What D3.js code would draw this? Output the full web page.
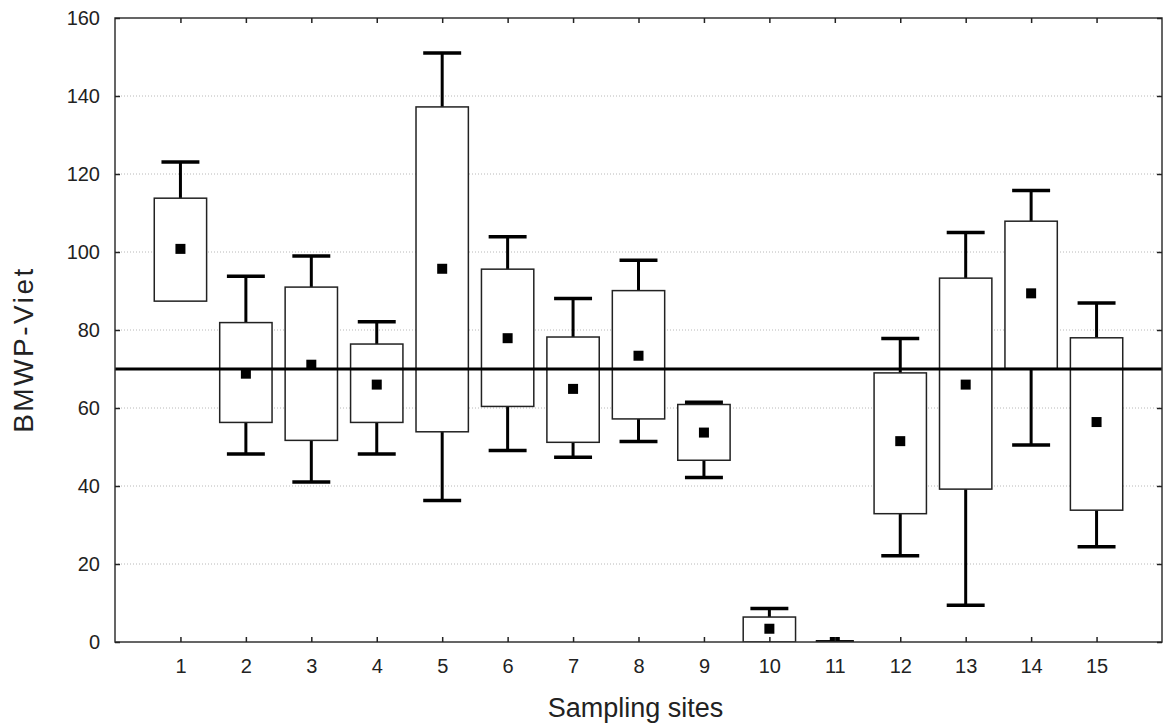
<!DOCTYPE html>
<html>
<head>
<meta charset="utf-8">
<script src="https://cdn.jsdelivr.net/npm/d3@7"></script>
<style>
  body { margin: 0; background: #fff; }
  text { font-family: "Liberation Sans", Arial, sans-serif; fill: #222; }
</style>
</head>
<body>
<div class="canvas"></div>
<script>
// data
const sites    = [1, 2, 3, 4, 5, 6, 7, 8, 9, 10, 11, 12, 13, 14, 15];
const means    = [100.8, 68.8, 71.1, 66.0, 95.7, 77.9, 64.9, 73.4, 53.7, 3.4, 0, 51.5, 66.0, 89.4, 56.4];
const boxLow   = [87.4, 56.3, 51.7, 56.3, 53.9, 60.4, 51.2, 57.2, 46.6, 0, 0, 32.9, 39.2, 70.1, 33.8];
const boxHigh  = [113.8, 81.9, 91.0, 76.4, 137.2, 95.6, 78.2, 90.1, 60.9, 6.4, 0, 69.0, 93.3, 107.9, 78.0];
const whiskLow = [87.4, 48.2, 41.0, 48.2, 36.3, 49.1, 47.4, 51.4, 42.2, 0, 0, 22.1, 9.4, 50.5, 24.4];
const whiskHigh= [123.1, 93.8, 99.0, 82.1, 151.0, 103.9, 88.1, 97.9, 61.5, 8.6, 0, 77.8, 105.0, 115.8, 86.9];
const yTicks   = [0, 20, 40, 60, 80, 100, 120, 140, 160];
const refLine  = 70;

const width = 1163, height = 727;
const margin = {top: 18, right: 1, bottom: 85, left: 115};
const graphWidth = width - margin.left - margin.right;
const graphHeight = height - margin.top - margin.bottom;

const svg = d3.select('.canvas')
  .append('svg')
  .attr('width', width)
  .attr('height', height);

const graph = svg.append('g')
  .attr('transform', `translate(${margin.left}, ${margin.top})`);

const x = d3.scaleLinear().domain([0, 16]).range([0, graphWidth]);
const y = d3.scaleLinear().domain([0, 160]).range([graphHeight, 0]);

// clip for plot area
svg.append('defs').append('clipPath').attr('id', 'plotclip')
  .append('rect').attr('width', graphWidth).attr('height', graphHeight);

// dotted grid
graph.append('g')
  .selectAll('line')
  .data(yTicks.filter(d => d > 0 && d < 160))
  .enter().append('line')
  .attr('x1', 0).attr('x2', graphWidth)
  .attr('y1', d => y(d)).attr('y2', d => y(d))
  .attr('stroke', '#b8b8b8')
  .attr('stroke-width', 1)
  .attr('stroke-dasharray', '1,2');

const rows = sites.map((s, i) => ({
  site: s, mean: means[i], q1: boxLow[i], q3: boxHigh[i], lo: whiskLow[i], hi: whiskHigh[i]
}));

const plot = graph.append('g').attr('clip-path', 'url(#plotclip)');

const boxHalf = 0.4, capHalf = 0.29;

const items = plot.selectAll('g.box').data(rows).enter().append('g').attr('class', 'box');

// whisker stems
items.append('line')
  .attr('x1', d => x(d.site)).attr('x2', d => x(d.site))
  .attr('y1', d => y(d.q3)).attr('y2', d => y(d.hi))
  .attr('stroke', '#000').attr('stroke-width', 3);
items.append('line')
  .attr('x1', d => x(d.site)).attr('x2', d => x(d.site))
  .attr('y1', d => y(d.q1)).attr('y2', d => y(d.lo))
  .attr('stroke', '#000').attr('stroke-width', 3);

// caps
items.append('line')
  .attr('x1', d => x(d.site - capHalf)).attr('x2', d => x(d.site + capHalf))
  .attr('y1', d => y(d.hi)).attr('y2', d => y(d.hi))
  .attr('stroke', '#000').attr('stroke-width', 3.5);
items.filter(d => d.lo < d.q1 || d.q1 === d.q3)
  .append('line')
  .attr('x1', d => x(d.site - capHalf)).attr('x2', d => x(d.site + capHalf))
  .attr('y1', d => y(d.lo)).attr('y2', d => y(d.lo))
  .attr('stroke', '#000').attr('stroke-width', 3.5);

// boxes
items.filter(d => d.q3 > d.q1)
  .append('rect')
  .attr('x', d => x(d.site - boxHalf))
  .attr('width', d => x(d.site + boxHalf) - x(d.site - boxHalf))
  .attr('y', d => y(d.q3))
  .attr('height', d => y(d.q1) - y(d.q3))
  .attr('fill', '#fff')
  .attr('stroke', '#222')
  .attr('stroke-width', 1.5);

// reference line
plot.append('line')
  .attr('x1', 0).attr('x2', graphWidth)
  .attr('y1', y(refLine)).attr('y2', y(refLine))
  .attr('stroke', '#000').attr('stroke-width', 3);

// mean markers
items.append('rect')
  .attr('x', d => x(d.site) - 5)
  .attr('y', d => y(d.mean) - 5)
  .attr('width', 10).attr('height', 10)
  .attr('fill', '#000');

// frame
graph.append('rect')
  .attr('width', graphWidth).attr('height', graphHeight)
  .attr('fill', 'none').attr('stroke', '#333').attr('stroke-width', 1.5);

// axes
const xAxis = d3.axisBottom(x).tickValues(sites).tickSizeInner(-5).tickSizeOuter(0).tickPadding(17);
const xAxisTop = d3.axisTop(x).tickValues(sites).tickSizeInner(-5).tickSizeOuter(0).tickFormat('');
const yAxis = d3.axisLeft(y).tickValues(yTicks).tickSizeInner(-5).tickSizeOuter(0).tickPadding(15);
const yAxisRight = d3.axisRight(y).tickValues(yTicks).tickSizeInner(-5).tickSizeOuter(0).tickFormat('');

const xAxisGroup = graph.append('g').attr('transform', `translate(0, ${graphHeight})`).call(xAxis);
graph.append('g').call(xAxisTop);
const yAxisGroup = graph.append('g').call(yAxis);
graph.append('g').attr('transform', `translate(${graphWidth}, 0)`).call(yAxisRight);

graph.selectAll('.domain').remove();
graph.selectAll('.tick line').attr('stroke', '#222').attr('stroke-width', 1.5);
xAxisGroup.selectAll('text').attr('font-size', 20).attr('fill', '#222').attr('font-family', '"Liberation Sans", Arial, sans-serif');
yAxisGroup.selectAll('text').attr('font-size', 20).attr('fill', '#222').attr('font-family', '"Liberation Sans", Arial, sans-serif');

// titles
svg.append('text')
  .attr('x', margin.left + x(8) - 3)
  .attr('y', 717)
  .attr('text-anchor', 'middle')
  .attr('font-size', 27)
  .text('Sampling sites');

svg.append('text')
  .attr('transform', `translate(33, ${margin.top + y(75)}) rotate(-90)`)
  .attr('text-anchor', 'middle')
  .attr('font-size', 28)
  .attr('letter-spacing', 2.5)
  .text('BMWP-Viet');
</script>
</body>
</html>
